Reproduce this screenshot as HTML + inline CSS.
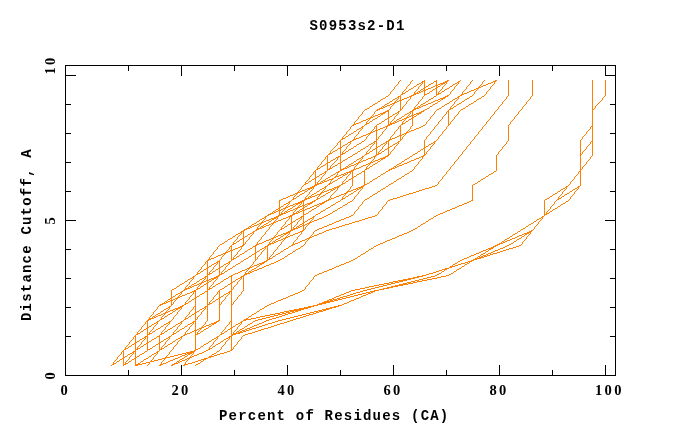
<!DOCTYPE html>
<html><head><meta charset="utf-8"><title>S0953s2-D1</title>
<style>
html,body{margin:0;padding:0;background:#fff;}
body{width:680px;height:440px;overflow:hidden;}
svg{display:block;}
.t{font-family:"Liberation Mono",monospace;font-weight:bold;font-size:14px;letter-spacing:1.2px;fill:#000;}
.n{font-family:"Liberation Serif",serif;font-weight:bold;font-size:14.5px;letter-spacing:2.35px;fill:#000;}
</style></head><body>
<svg width="680" height="440" viewBox="0 0 680 440">
<rect x="0" y="0" width="680" height="440" fill="#ffffff"/>

<path d="M113.5 362V365M117.5 357V359M121.5 352V354M123.5 350V366M125.5 347V350M125.5 362V365M129.5 342V344M129.5 357V359M133.5 337V339M133.5 351V354M135.5 335V366M136.5 364V366M137.5 332V335M137.5 347V350M137.5 364V366M138.5 363V365M139.5 363V365M141.5 327V329M141.5 342V344M145.5 322V324M145.5 336V339M147.5 320V351M148.5 319V321M149.5 317V320M149.5 332V335M149.5 362V364M150.5 318V320M151.5 360V362M152.5 317V319M153.5 312V314M153.5 327V329M153.5 357V359M154.5 316V318M157.5 307V309M157.5 321V324M157.5 351V354M159.5 335V351M160.5 304V306M160.5 364V366M161.5 317V320M161.5 332V335M161.5 347V350M161.5 362V365M162.5 303V305M164.5 302V304M164.5 313V315M164.5 358V360M165.5 312V314M165.5 327V329M165.5 342V344M165.5 357V359M166.5 301V303M166.5 311V313M166.5 356V358M169.5 306V309M169.5 321V324M169.5 336V339M169.5 352V354M171.5 290V306M172.5 364V366M173.5 302V304M173.5 317V319M173.5 332V335M173.5 347V349M174.5 363V365M176.5 298V300M176.5 308V310M176.5 362V364M177.5 297V299M177.5 308V310M177.5 312V314M177.5 327V329M177.5 342V344M178.5 296V298M178.5 307V309M178.5 361V363M179.5 307V309M180.5 306V308M181.5 291V294M181.5 306V309M181.5 321V324M181.5 336V339M182.5 305V307M184.5 289V291M184.5 334V336M184.5 364V366M185.5 287V290M185.5 302V305M185.5 317V320M185.5 332V335M185.5 353V355M185.5 362V365M186.5 288V290M187.5 352V354M188.5 287V289M188.5 352V355M188.5 358V360M189.5 282V284M189.5 297V299M189.5 312V314M189.5 327V329M189.5 352V355M189.5 357V359M190.5 286V288M190.5 351V354M190.5 356V358M191.5 351V354M192.5 351V353M193.5 276V279M193.5 291V294M193.5 307V309M193.5 321V324M193.5 351V354M194.5 290V292M194.5 350V352M195.5 290V351M197.5 272V275M197.5 287V290M197.5 317V319M197.5 332V335M200.5 283V285M200.5 328V330M201.5 267V269M201.5 282V284M201.5 312V314M201.5 327V329M202.5 281V283M202.5 326V328M203.5 359V361M204.5 358V360M205.5 262V264M205.5 276V279M205.5 306V309M205.5 322V324M205.5 358V360M207.5 260V321M208.5 259V261M209.5 257V260M209.5 272V275M209.5 287V290M209.5 302V305M209.5 347V350M209.5 356V358M210.5 356V358M211.5 355V357M212.5 278V280M212.5 323V325M213.5 252V254M213.5 267V269M213.5 278V280M213.5 282V284M213.5 297V299M213.5 323V325M213.5 342V344M214.5 277V279M214.5 322V324M215.5 277V279M215.5 322V324M216.5 276V278M216.5 321V323M217.5 247V249M217.5 261V264M217.5 276V279M217.5 292V294M217.5 336V339M218.5 275V277M218.5 320V322M219.5 260V276M219.5 290V321M221.5 257V259M221.5 272V275M221.5 302V304M221.5 332V335M221.5 347V349M224.5 253V255M225.5 252V254M225.5 267V269M225.5 297V299M225.5 327V329M225.5 342V344M226.5 251V253M229.5 247V249M229.5 261V264M229.5 291V294M229.5 322V324M229.5 336V339M231.5 245V261M231.5 275V351M232.5 334V336M233.5 242V245M233.5 257V260M233.5 287V289M233.5 302V304M233.5 332V335M233.5 347V349M234.5 333V335M235.5 333V335M236.5 332V334M237.5 237V239M237.5 252V254M237.5 282V284M237.5 297V299M237.5 327V329M237.5 342V344M238.5 331V334M239.5 332V334M240.5 331V333M241.5 231V234M241.5 246V249M241.5 276V279M241.5 292V294M241.5 321V324M241.5 331V333M241.5 337V339M242.5 245V247M243.5 230V246M243.5 275V291M243.5 330V332M244.5 229V231M244.5 274V276M244.5 319V321M244.5 330V332M245.5 242V244M245.5 272V275M245.5 319V321M246.5 228V230M246.5 273V275M246.5 318V320M246.5 329V331M247.5 318V320M248.5 227V229M248.5 268V270M248.5 272V274M249.5 237V239M249.5 267V269M249.5 328V330M250.5 226V228M250.5 266V268M250.5 271V273M253.5 231V234M253.5 262V264M255.5 245V261M256.5 229V231M256.5 244V246M257.5 227V230M257.5 242V245M257.5 257V259M258.5 228V230M260.5 223V225M260.5 227V229M260.5 263V265M261.5 222V224M261.5 237V239M261.5 252V254M261.5 263V265M262.5 221V223M262.5 226V228M262.5 262V264M263.5 262V264M264.5 261V263M265.5 216V219M265.5 232V234M265.5 246V249M266.5 260V262M267.5 245V261M268.5 214V216M268.5 244V246M269.5 227V229M269.5 242V245M269.5 257V260M270.5 213V215M270.5 243V245M272.5 212V214M272.5 218V220M272.5 223V225M272.5 238V240M272.5 242V244M273.5 218V220M273.5 222V224M273.5 237V239M273.5 252V254M274.5 211V213M274.5 217V219M274.5 221V223M274.5 236V238M274.5 241V243M274.5 314V316M275.5 217V219M276.5 216V218M277.5 216V219M277.5 232V234M277.5 247V249M278.5 215V217M278.5 313V315M279.5 200V216M279.5 313V315M280.5 214V216M281.5 212V215M281.5 227V230M281.5 242V244M282.5 213V215M282.5 312V314M283.5 312V314M284.5 208V210M284.5 212V214M284.5 233V235M284.5 238V240M285.5 207V209M285.5 222V224M285.5 233V235M285.5 237V239M285.5 313V315M286.5 206V208M286.5 211V213M286.5 232V234M286.5 236V238M286.5 311V313M287.5 232V234M287.5 311V313M288.5 231V233M288.5 311V314M289.5 201V204M289.5 216V219M289.5 231V234M289.5 312V314M290.5 215V217M290.5 230V232M290.5 310V312M291.5 215V231M291.5 310V312M292.5 214V216M292.5 229V231M292.5 244V246M292.5 310V313M293.5 197V200M293.5 212V215M293.5 227V230M293.5 242V245M293.5 310V313M294.5 213V215M294.5 228V230M294.5 309V311M295.5 309V312M296.5 193V195M296.5 203V205M296.5 208V210M296.5 212V214M296.5 227V229M296.5 309V312M297.5 192V194M297.5 203V205M297.5 207V209M297.5 222V224M297.5 237V239M297.5 309V312M298.5 191V193M298.5 202V204M298.5 206V208M298.5 211V213M298.5 226V228M298.5 309V311M299.5 202V204M299.5 308V311M300.5 201V203M300.5 308V311M301.5 187V189M301.5 201V204M301.5 216V219M301.5 231V234M301.5 308V310M302.5 200V202M302.5 230V232M302.5 308V310M303.5 200V231M303.5 308V310M304.5 199V201M304.5 307V309M305.5 182V185M305.5 197V200M305.5 227V229M305.5 242V244M305.5 287V289M305.5 307V309M306.5 198V200M306.5 307V309M307.5 307V309M308.5 188V190M308.5 197V199M308.5 203V205M308.5 223V225M308.5 238V240M308.5 306V308M309.5 177V179M309.5 188V190M309.5 192V194M309.5 203V205M309.5 222V224M309.5 237V239M309.5 282V284M309.5 306V308M309.5 313V315M310.5 187V189M310.5 196V198M310.5 202V204M310.5 221V223M310.5 236V238M310.5 306V308M311.5 187V189M311.5 202V204M312.5 186V188M312.5 201V203M313.5 172V174M313.5 186V189M313.5 216V219M313.5 232V234M313.5 277V279M313.5 305V307M313.5 312V314M314.5 185V187M314.5 200V202M315.5 170V186M316.5 184V186M316.5 311V313M317.5 167V170M317.5 182V185M317.5 197V200M317.5 304V306M317.5 311V313M318.5 183V185M319.5 194V196M319.5 303V305M319.5 310V312M320.5 182V184M320.5 193V195M320.5 203V205M320.5 303V305M320.5 310V312M321.5 162V164M321.5 177V179M321.5 192V194M321.5 203V205M321.5 303V305M321.5 310V312M322.5 181V183M322.5 191V193M322.5 202V204M322.5 302V304M323.5 202V204M323.5 302V304M323.5 309V311M324.5 180V182M324.5 201V203M324.5 301V304M324.5 309V311M325.5 157V159M325.5 171V174M325.5 186V189M325.5 301V304M325.5 309V311M326.5 200V202M326.5 301V303M326.5 308V310M327.5 155V171M327.5 300V303M327.5 308V310M328.5 199V201M328.5 300V303M328.5 308V310M329.5 153V155M329.5 168V170M329.5 183V185M329.5 198V200M329.5 301V303M330.5 151V154M330.5 166V169M330.5 181V184M330.5 196V198M330.5 299V302M330.5 307V309M331.5 179V181M331.5 189V191M331.5 299V302M331.5 307V309M332.5 178V180M332.5 300V302M333.5 188V190M333.5 298V300M334.5 299V301M334.5 306V308M335.5 176V178M335.5 187V189M335.5 299V301M335.5 306V308M336.5 175V177M336.5 299V301M337.5 143V145M337.5 157V160M337.5 172V175M337.5 186V190M338.5 156V158M338.5 171V173M338.5 186V188M338.5 298V300M338.5 305V307M339.5 185V187M339.5 298V300M340.5 140V171M341.5 169V171M342.5 137V140M342.5 152V155M342.5 182V185M342.5 197V200M342.5 297V299M343.5 168V170M343.5 174V176M345.5 167V169M345.5 173V175M345.5 193V195M346.5 132V134M346.5 147V149M346.5 177V179M346.5 192V194M346.5 296V298M347.5 166V168M347.5 172V174M347.5 191V193M348.5 190V192M349.5 171V173M350.5 127V129M350.5 141V144M350.5 171V174M350.5 187V189M351.5 170V172M352.5 170V186M353.5 124V126M353.5 139V141M353.5 169V171M354.5 122V125M354.5 137V140M354.5 167V170M354.5 197V199M354.5 212V214M357.5 163V165M357.5 188V190M358.5 117V119M358.5 132V134M358.5 162V164M358.5 192V194M358.5 207V209M359.5 161V163M359.5 187V189M360.5 187V189M361.5 186V188M362.5 112V114M362.5 126V129M362.5 156V159M362.5 186V189M362.5 202V204M363.5 185V187M364.5 170V186M366.5 122V125M366.5 137V139M366.5 152V155M366.5 167V170M368.5 292V294M369.5 118V120M369.5 133V135M369.5 163V165M369.5 292V294M370.5 117V119M370.5 132V134M370.5 147V149M370.5 162V164M371.5 116V118M371.5 131V133M371.5 161V163M371.5 291V293M372.5 291V293M374.5 112V114M374.5 127V129M374.5 141V144M374.5 156V159M374.5 290V292M375.5 155V157M376.5 125V156M377.5 109V111M378.5 137V139M378.5 152V155M378.5 212V214M379.5 108V110M381.5 107V109M381.5 113V115M381.5 158V160M382.5 113V115M382.5 132V134M382.5 147V149M382.5 158V160M382.5 207V209M383.5 106V108M383.5 112V114M383.5 157V159M383.5 284V286M383.5 288V290M384.5 112V114M384.5 157V159M385.5 111V113M385.5 156V158M386.5 126V129M386.5 141V144M386.5 202V204M387.5 110V112M387.5 125V127M387.5 155V157M387.5 283V285M387.5 287V289M388.5 110V126M388.5 140V156M388.5 283V285M388.5 287V289M389.5 124V126M389.5 139V141M389.5 169V171M390.5 92V94M390.5 107V109M390.5 122V125M390.5 137V140M390.5 152V154M391.5 123V125M391.5 168V170M391.5 282V284M391.5 286V288M392.5 282V284M392.5 286V288M393.5 103V105M393.5 122V124M393.5 167V169M394.5 87V89M394.5 102V104M394.5 117V119M394.5 132V134M394.5 147V149M395.5 101V103M395.5 121V123M395.5 166V168M395.5 281V283M395.5 285V287M396.5 281V283M396.5 285V287M397.5 281V283M397.5 285V287M398.5 82V84M398.5 96V99M398.5 111V114M398.5 127V129M398.5 141V144M399.5 280V282M399.5 284V286M400.5 95V111M400.5 125V141M400.5 280V282M400.5 284V286M401.5 280V282M401.5 284V286M402.5 92V95M402.5 107V109M402.5 122V125M402.5 137V139M402.5 280V282M402.5 284V286M403.5 279V281M403.5 283V285M404.5 279V281M404.5 283V285M405.5 118V120M405.5 133V135M405.5 279V281M405.5 283V285M406.5 87V89M406.5 102V104M406.5 117V119M406.5 132V134M406.5 279V281M406.5 283V285M407.5 116V118M407.5 131V133M408.5 278V280M408.5 282V284M409.5 278V280M409.5 282V284M410.5 82V84M410.5 96V99M410.5 111V114M410.5 127V129M410.5 278V280M410.5 282V284M411.5 95V97M412.5 110V126M413.5 94V96M413.5 109V111M413.5 277V279M413.5 281V283M414.5 92V95M414.5 107V110M414.5 167V169M414.5 277V279M414.5 281V283M415.5 93V95M415.5 108V110M417.5 92V94M417.5 107V109M417.5 113V115M417.5 276V278M417.5 280V282M418.5 87V89M418.5 102V104M418.5 113V115M418.5 162V164M418.5 276V278M418.5 280V282M419.5 91V93M419.5 106V108M419.5 112V114M420.5 112V114M421.5 111V113M422.5 81V84M422.5 97V99M422.5 156V159M422.5 275V277M422.5 279V281M423.5 110V112M423.5 155V157M424.5 80V96M424.5 140V156M426.5 122V124M426.5 137V139M426.5 152V154M430.5 117V119M430.5 132V134M430.5 147V149M434.5 112V114M434.5 127V129M434.5 141V144M436.5 80V96M438.5 92V95M438.5 122V124M438.5 137V139M438.5 182V184M441.5 83V85M441.5 98V100M442.5 83V85M442.5 87V89M442.5 98V100M442.5 117V119M442.5 132V134M442.5 177V179M443.5 82V84M443.5 97V99M444.5 82V84M444.5 97V99M444.5 269V271M445.5 81V83M445.5 96V98M445.5 268V270M446.5 81V84M446.5 112V114M446.5 127V129M446.5 172V174M446.5 268V270M447.5 80V82M447.5 95V97M448.5 110V126M450.5 92V94M450.5 107V110M450.5 122V124M450.5 167V169M450.5 266V268M451.5 266V268M452.5 265V267M454.5 87V89M454.5 102V104M454.5 117V119M454.5 162V164M458.5 81V84M458.5 96V99M458.5 112V114M458.5 157V159M461.5 94V96M462.5 92V95M462.5 152V154M466.5 87V89M466.5 147V149M467.5 262V264M469.5 261V263M470.5 82V84M470.5 142V144M471.5 260V262M472.5 185V201M473.5 259V261M474.5 92V94M474.5 137V139M475.5 258V260M476.5 258V260M477.5 88V90M477.5 257V259M478.5 87V89M478.5 132V134M479.5 86V88M479.5 256V259M480.5 257V259M481.5 256V258M482.5 82V84M482.5 127V129M482.5 256V258M484.5 255V257M485.5 255V257M486.5 92V94M486.5 122V124M487.5 254V256M489.5 248V250M490.5 87V89M490.5 117V119M490.5 248V250M490.5 253V255M491.5 247V249M492.5 247V249M493.5 246V248M494.5 81V84M494.5 112V114M495.5 80V82M495.5 245V247M496.5 155V171M497.5 244V246M498.5 107V109M498.5 152V154M499.5 243V245M501.5 242V244M502.5 102V104M502.5 147V149M503.5 241V243M506.5 97V99M506.5 142V144M508.5 80V96M508.5 125V141M510.5 122V124M514.5 117V119M518.5 112V114M522.5 107V109M522.5 242V244M525.5 233V235M526.5 102V104M526.5 233V235M526.5 237V239M527.5 232V234M528.5 232V234M529.5 231V233M530.5 97V99M530.5 231V234M531.5 230V232M532.5 80V96M534.5 227V229M538.5 222V224M542.5 216V219M544.5 200V216M546.5 212V215M550.5 207V209M554.5 202V204M558.5 197V200M562.5 192V194M566.5 186V189M570.5 182V184M570.5 197V199M574.5 177V179M574.5 192V194M578.5 172V174M578.5 186V189M580.5 140V186M582.5 137V139M582.5 152V154M582.5 167V169M586.5 132V134M586.5 147V149M586.5 162V164M590.5 127V129M590.5 142V144M590.5 157V159M592.5 80V156M595.5 106V108M602.5 98V100M605.5 80V96M400 80.5H401M412 80.5H413M448 80.5H449M460 80.5H461M472 80.5H473M484 80.5H485M496 80.5H497M399 81.5H400M411 81.5H412M423 81.5H424M434 81.5H436M459 81.5H460M471 81.5H472M483 81.5H484M493 81.5H494M421 82.5H422M433 82.5H434M457 82.5H458M491 82.5H493M419 83.5H421M431 83.5H433M440 83.5H441M455 83.5H457M488 83.5H491M397 84.5H398M409 84.5H410M417 84.5H419M421 84.5H422M429 84.5H431M438 84.5H440M445 84.5H446M453 84.5H455M457 84.5H458M469 84.5H470M481 84.5H482M486 84.5H488M493 84.5H494M396 85.5H397M408 85.5H409M416 85.5H417M420 85.5H421M428 85.5H429M435 85.5H436M437 85.5H438M440 85.5H441M444 85.5H445M452 85.5H453M456 85.5H457M468 85.5H469M480 85.5H481M483 85.5H486M492 85.5H493M395 86.5H396M407 86.5H408M414 86.5H416M419 86.5H420M426 86.5H428M433 86.5H435M438 86.5H440M443 86.5H444M450 86.5H452M455 86.5H456M467 86.5H468M481 86.5H483M491 86.5H492M413 87.5H414M425 87.5H426M431 87.5H433M437 87.5H438M449 87.5H450M480 87.5H481M411 88.5H413M423 88.5H424M428 88.5H431M435 88.5H436M447 88.5H449M476 88.5H477M393 89.5H394M405 89.5H406M409 89.5H411M417 89.5H418M421 89.5H423M426 89.5H428M433 89.5H435M441 89.5H442M445 89.5H447M453 89.5H454M465 89.5H466M474 89.5H476M489 89.5H490M392 90.5H393M404 90.5H405M408 90.5H409M416 90.5H417M420 90.5H421M423 90.5H424M425 90.5H426M432 90.5H433M440 90.5H441M444 90.5H445M452 90.5H453M464 90.5H465M471 90.5H474M476 90.5H477M488 90.5H489M391 91.5H392M403 91.5H404M406 91.5H408M415 91.5H416M418 91.5H419M421 91.5H423M430 91.5H432M439 91.5H440M442 91.5H444M451 91.5H452M463 91.5H464M469 91.5H471M475 91.5H476M487 91.5H488M405 92.5H406M420 92.5H421M429 92.5H430M441 92.5H442M467 92.5H469M403 93.5H405M416 93.5H417M418 93.5H419M427 93.5H429M439 93.5H441M464 93.5H467M389 94.5H390M401 94.5H402M425 94.5H427M437 94.5H438M449 94.5H450M463 94.5H464M473 94.5H474M485 94.5H486M388 95.5H389M412 95.5H413M448 95.5H449M460 95.5H461M472 95.5H473M484 95.5H485M386 96.5H388M399 96.5H400M409 96.5H410M423 96.5H424M434 96.5H436M446 96.5H447M459 96.5H460M470 96.5H472M482 96.5H484M507 96.5H508M531 96.5H532M604 96.5H605M385 97.5H386M397 97.5H398M407 97.5H409M433 97.5H434M457 97.5H458M469 97.5H470M481 97.5H482M603 97.5H604M383 98.5H385M395 98.5H397M404 98.5H407M431 98.5H433M440 98.5H441M455 98.5H457M467 98.5H469M479 98.5H481M381 99.5H383M393 99.5H395M397 99.5H398M402 99.5H404M409 99.5H410M421 99.5H422M429 99.5H431M438 99.5H440M453 99.5H455M457 99.5H458M465 99.5H467M477 99.5H479M505 99.5H506M529 99.5H530M380 100.5H381M392 100.5H393M396 100.5H397M399 100.5H400M401 100.5H402M408 100.5H409M420 100.5H421M428 100.5H429M435 100.5H438M440 100.5H441M452 100.5H453M456 100.5H457M464 100.5H465M476 100.5H477M504 100.5H505M528 100.5H529M601 100.5H602M378 101.5H380M390 101.5H392M397 101.5H399M407 101.5H408M419 101.5H420M426 101.5H428M433 101.5H435M438 101.5H440M450 101.5H452M455 101.5H456M462 101.5H464M474 101.5H476M503 101.5H504M527 101.5H528M600 101.5H601M377 102.5H378M389 102.5H390M396 102.5H397M425 102.5H426M431 102.5H433M437 102.5H438M449 102.5H450M461 102.5H462M473 102.5H474M599 102.5H600M375 103.5H377M387 103.5H389M392 103.5H393M423 103.5H425M428 103.5H431M435 103.5H437M447 103.5H449M459 103.5H461M471 103.5H473M598 103.5H599M373 104.5H375M385 104.5H387M390 104.5H392M405 104.5H406M417 104.5H418M421 104.5H423M426 104.5H428M433 104.5H435M445 104.5H447M453 104.5H454M457 104.5H459M469 104.5H471M501 104.5H502M525 104.5H526M597 104.5H598M372 105.5H373M384 105.5H385M387 105.5H390M392 105.5H393M404 105.5H405M416 105.5H417M420 105.5H421M423 105.5H426M432 105.5H433M444 105.5H445M452 105.5H453M456 105.5H457M468 105.5H469M500 105.5H501M524 105.5H525M596 105.5H597M370 106.5H372M382 106.5H383M385 106.5H387M391 106.5H392M403 106.5H404M415 106.5H416M418 106.5H419M421 106.5H423M430 106.5H432M442 106.5H444M451 106.5H452M454 106.5H456M466 106.5H468M499 106.5H500M523 106.5H524M369 107.5H370M384 107.5H385M420 107.5H421M429 107.5H430M441 107.5H442M453 107.5H454M465 107.5H466M367 108.5H369M380 108.5H381M382 108.5H383M416 108.5H417M418 108.5H419M427 108.5H429M439 108.5H441M451 108.5H453M463 108.5H465M594 108.5H595M365 109.5H367M378 109.5H379M389 109.5H390M401 109.5H402M425 109.5H427M437 109.5H439M449 109.5H450M461 109.5H463M497 109.5H498M521 109.5H522M593 109.5H594M364 110.5H365M376 110.5H377M424 110.5H425M436 110.5H437M460 110.5H461M496 110.5H497M520 110.5H521M363 111.5H364M375 111.5H376M386 111.5H387M399 111.5H400M411 111.5H412M422 111.5H423M435 111.5H436M447 111.5H448M459 111.5H460M495 111.5H496M519 111.5H520M397 112.5H398M409 112.5H410M380 113.5H381M395 113.5H397M407 113.5H409M416 113.5H417M361 114.5H362M373 114.5H374M378 114.5H380M393 114.5H395M397 114.5H398M405 114.5H407M409 114.5H410M414 114.5H416M433 114.5H434M445 114.5H446M457 114.5H458M493 114.5H494M517 114.5H518M360 115.5H361M372 115.5H373M375 115.5H378M380 115.5H381M392 115.5H393M396 115.5H397M404 115.5H405M408 115.5H409M411 115.5H412M413 115.5H414M416 115.5H417M432 115.5H433M444 115.5H445M456 115.5H457M492 115.5H493M516 115.5H517M359 116.5H360M373 116.5H375M378 116.5H380M390 116.5H392M395 116.5H396M402 116.5H404M409 116.5H411M414 116.5H416M431 116.5H432M443 116.5H444M455 116.5H456M491 116.5H492M515 116.5H516M372 117.5H373M377 117.5H378M389 117.5H390M401 117.5H402M408 117.5H409M413 117.5H414M368 118.5H369M375 118.5H377M387 118.5H388M399 118.5H401M404 118.5H405M411 118.5H412M357 119.5H358M366 119.5H368M373 119.5H375M385 119.5H387M393 119.5H394M397 119.5H399M402 119.5H404M409 119.5H411M429 119.5H430M441 119.5H442M453 119.5H454M489 119.5H490M513 119.5H514M356 120.5H357M363 120.5H366M368 120.5H369M372 120.5H373M384 120.5H385M392 120.5H393M396 120.5H397M399 120.5H402M404 120.5H405M408 120.5H409M428 120.5H429M440 120.5H441M452 120.5H453M488 120.5H489M512 120.5H513M355 121.5H356M361 121.5H363M367 121.5H368M370 121.5H372M382 121.5H384M391 121.5H392M394 121.5H395M397 121.5H399M403 121.5H404M406 121.5H408M427 121.5H428M439 121.5H440M451 121.5H452M487 121.5H488M511 121.5H512M359 122.5H361M369 122.5H370M381 122.5H382M396 122.5H397M405 122.5H406M356 123.5H359M367 123.5H369M379 123.5H381M392 123.5H393M394 123.5H395M403 123.5H405M355 124.5H356M365 124.5H366M377 124.5H379M401 124.5H402M425 124.5H426M437 124.5H438M449 124.5H450M485 124.5H486M509 124.5H510M352 125.5H353M364 125.5H365M423 125.5H425M436 125.5H437M484 125.5H485M351 126.5H352M363 126.5H364M375 126.5H376M385 126.5H386M399 126.5H400M411 126.5H412M421 126.5H423M435 126.5H436M447 126.5H448M483 126.5H484M591 126.5H592M361 127.5H362M383 127.5H385M419 127.5H421M359 128.5H361M380 128.5H383M416 128.5H419M349 129.5H350M357 129.5H359M361 129.5H362M373 129.5H374M378 129.5H380M385 129.5H386M397 129.5H398M409 129.5H410M414 129.5H416M433 129.5H434M445 129.5H446M481 129.5H482M589 129.5H590M348 130.5H349M356 130.5H357M360 130.5H361M372 130.5H373M375 130.5H376M377 130.5H378M384 130.5H385M396 130.5H397M408 130.5H409M411 130.5H414M432 130.5H433M444 130.5H445M480 130.5H481M588 130.5H589M347 131.5H348M354 131.5H356M359 131.5H360M373 131.5H375M383 131.5H384M395 131.5H396M409 131.5H411M431 131.5H432M443 131.5H444M479 131.5H480M587 131.5H588M353 132.5H354M372 132.5H373M408 132.5H409M351 133.5H353M368 133.5H369M404 133.5H405M345 134.5H346M349 134.5H351M357 134.5H358M366 134.5H368M381 134.5H382M393 134.5H394M402 134.5H404M429 134.5H430M441 134.5H442M477 134.5H478M585 134.5H586M344 135.5H345M348 135.5H349M356 135.5H357M363 135.5H366M368 135.5H369M380 135.5H381M392 135.5H393M399 135.5H400M401 135.5H402M404 135.5H405M428 135.5H429M440 135.5H441M476 135.5H477M584 135.5H585M343 136.5H344M346 136.5H348M355 136.5H356M361 136.5H363M367 136.5H368M379 136.5H380M391 136.5H392M397 136.5H399M403 136.5H404M427 136.5H428M439 136.5H440M475 136.5H476M583 136.5H584M345 137.5H346M359 137.5H361M395 137.5H397M343 138.5H345M356 138.5H359M392 138.5H395M341 139.5H342M355 139.5H356M365 139.5H366M377 139.5H378M391 139.5H392M401 139.5H402M425 139.5H426M437 139.5H438M473 139.5H474M581 139.5H582M352 140.5H353M364 140.5H365M436 140.5H437M472 140.5H473M339 141.5H340M351 141.5H352M362 141.5H364M375 141.5H376M387 141.5H388M399 141.5H400M435 141.5H436M471 141.5H472M507 141.5H508M591 141.5H592M338 142.5H339M348 142.5H350M361 142.5H362M373 142.5H374M385 142.5H386M397 142.5H398M433 142.5H434M347 143.5H348M359 143.5H361M371 143.5H373M383 143.5H385M395 143.5H397M431 143.5H433M345 144.5H347M349 144.5H350M357 144.5H359M369 144.5H371M373 144.5H374M381 144.5H383M385 144.5H386M393 144.5H395M397 144.5H398M429 144.5H431M433 144.5H434M469 144.5H470M505 144.5H506M589 144.5H590M336 145.5H337M343 145.5H345M348 145.5H349M356 145.5H357M368 145.5H369M372 145.5H373M380 145.5H381M384 145.5H385M392 145.5H393M396 145.5H397M428 145.5H429M432 145.5H433M468 145.5H469M504 145.5H505M588 145.5H589M335 146.5H336M342 146.5H343M347 146.5H348M354 146.5H356M366 146.5H368M371 146.5H372M378 146.5H380M383 146.5H384M390 146.5H392M395 146.5H396M426 146.5H428M431 146.5H432M467 146.5H468M503 146.5H504M587 146.5H588M334 147.5H335M341 147.5H342M353 147.5H354M365 147.5H366M377 147.5H378M389 147.5H390M425 147.5H426M333 148.5H334M338 148.5H340M351 148.5H353M363 148.5H365M375 148.5H376M387 148.5H388M423 148.5H424M332 149.5H333M337 149.5H338M345 149.5H346M349 149.5H351M361 149.5H363M369 149.5H370M373 149.5H375M381 149.5H382M385 149.5H387M393 149.5H394M421 149.5H423M429 149.5H430M465 149.5H466M501 149.5H502M585 149.5H586M331 150.5H332M335 150.5H337M344 150.5H345M348 150.5H349M360 150.5H361M368 150.5H369M372 150.5H373M380 150.5H381M384 150.5H385M392 150.5H393M420 150.5H421M428 150.5H429M464 150.5H465M500 150.5H501M584 150.5H585M333 151.5H335M343 151.5H344M346 151.5H348M358 151.5H360M367 151.5H368M370 151.5H372M379 151.5H380M382 151.5H384M391 151.5H392M418 151.5H420M427 151.5H428M463 151.5H464M499 151.5H500M583 151.5H584M332 152.5H333M345 152.5H346M357 152.5H358M369 152.5H370M381 152.5H382M417 152.5H418M331 153.5H332M343 153.5H345M355 153.5H357M367 153.5H369M379 153.5H381M415 153.5H417M328 154.5H329M341 154.5H342M353 154.5H355M365 154.5H366M377 154.5H378M389 154.5H390M413 154.5H415M425 154.5H426M461 154.5H462M497 154.5H498M581 154.5H582M352 155.5H353M364 155.5H365M412 155.5H413M460 155.5H461M326 156.5H327M339 156.5H340M350 156.5H352M363 156.5H364M373 156.5H374M386 156.5H387M410 156.5H412M421 156.5H422M459 156.5H460M591 156.5H592M336 157.5H337M348 157.5H350M361 157.5H362M371 157.5H373M409 157.5H410M419 157.5H421M335 158.5H336M347 158.5H348M359 158.5H361M368 158.5H371M380 158.5H381M407 158.5H409M416 158.5H419M324 159.5H325M333 159.5H335M345 159.5H347M357 159.5H359M361 159.5H362M366 159.5H368M373 159.5H374M378 159.5H380M405 159.5H407M414 159.5H416M421 159.5H422M457 159.5H458M589 159.5H590M323 160.5H324M331 160.5H333M336 160.5H337M343 160.5H345M356 160.5H357M360 160.5H361M363 160.5H366M372 160.5H373M375 160.5H378M380 160.5H381M404 160.5H405M411 160.5H414M420 160.5H421M456 160.5H457M588 160.5H589M322 161.5H323M330 161.5H331M335 161.5H336M342 161.5H343M354 161.5H356M361 161.5H363M373 161.5H375M378 161.5H380M402 161.5H404M409 161.5H411M419 161.5H420M455 161.5H456M587 161.5H588M328 162.5H330M334 162.5H335M341 162.5H342M353 162.5H354M360 162.5H361M372 162.5H373M377 162.5H378M401 162.5H402M407 162.5H409M326 163.5H327M333 163.5H334M338 163.5H340M351 163.5H353M356 163.5H357M368 163.5H369M375 163.5H377M399 163.5H401M404 163.5H407M320 164.5H321M325 164.5H326M332 164.5H333M337 164.5H338M349 164.5H351M354 164.5H356M366 164.5H368M373 164.5H375M397 164.5H399M402 164.5H404M417 164.5H418M453 164.5H454M585 164.5H586M319 165.5H320M323 165.5H325M331 165.5H332M335 165.5H337M348 165.5H349M351 165.5H354M356 165.5H357M363 165.5H366M368 165.5H369M372 165.5H373M396 165.5H397M399 165.5H402M416 165.5H417M452 165.5H453M584 165.5H585M318 166.5H319M321 166.5H323M333 166.5H335M346 166.5H347M349 166.5H351M355 166.5H356M361 166.5H363M367 166.5H368M370 166.5H372M394 166.5H395M397 166.5H399M415 166.5H416M451 166.5H452M583 166.5H584M320 167.5H321M332 167.5H333M348 167.5H349M359 167.5H361M369 167.5H370M396 167.5H397M318 168.5H320M331 168.5H332M344 168.5H345M346 168.5H347M356 168.5H359M367 168.5H369M392 168.5H393M394 168.5H395M316 169.5H317M328 169.5H329M342 169.5H343M355 169.5H356M365 169.5H366M390 169.5H391M413 169.5H414M449 169.5H450M581 169.5H582M388 170.5H389M412 170.5H413M448 170.5H449M314 171.5H315M326 171.5H327M339 171.5H340M362 171.5H364M386 171.5H388M410 171.5H412M447 171.5H448M494 171.5H496M579 171.5H580M324 172.5H325M336 172.5H337M346 172.5H347M348 172.5H349M361 172.5H362M385 172.5H386M409 172.5H410M493 172.5H494M322 173.5H324M335 173.5H336M344 173.5H345M359 173.5H361M383 173.5H385M407 173.5H409M491 173.5H493M312 174.5H313M320 174.5H322M324 174.5H325M333 174.5H335M341 174.5H343M346 174.5H347M349 174.5H350M357 174.5H359M381 174.5H383M405 174.5H407M445 174.5H446M489 174.5H491M577 174.5H578M311 175.5H312M319 175.5H320M323 175.5H324M331 175.5H333M339 175.5H341M344 175.5H345M348 175.5H349M356 175.5H357M380 175.5H381M404 175.5H405M444 175.5H445M488 175.5H489M576 175.5H577M310 176.5H311M317 176.5H319M322 176.5H323M330 176.5H331M337 176.5H339M342 176.5H343M347 176.5H348M354 176.5H356M378 176.5H380M402 176.5H404M443 176.5H444M486 176.5H488M575 176.5H576M316 177.5H317M328 177.5H330M334 177.5H335M340 177.5H342M353 177.5H354M377 177.5H378M401 177.5H402M485 177.5H486M314 178.5H315M326 178.5H328M333 178.5H334M338 178.5H340M351 178.5H352M375 178.5H377M399 178.5H401M483 178.5H485M308 179.5H309M312 179.5H314M320 179.5H321M325 179.5H326M329 179.5H331M337 179.5H338M345 179.5H346M349 179.5H351M373 179.5H375M397 179.5H399M441 179.5H442M481 179.5H483M573 179.5H574M307 180.5H308M311 180.5H312M319 180.5H320M323 180.5H324M327 180.5H329M335 180.5H337M344 180.5H345M348 180.5H349M372 180.5H373M396 180.5H397M440 180.5H441M480 180.5H481M572 180.5H573M306 181.5H307M309 181.5H311M318 181.5H319M321 181.5H322M325 181.5H327M333 181.5H335M343 181.5H344M346 181.5H348M370 181.5H372M394 181.5H396M439 181.5H440M478 181.5H480M571 181.5H572M308 182.5H309M323 182.5H324M332 182.5H333M345 182.5H346M369 182.5H370M393 182.5H394M477 182.5H478M306 183.5H308M319 183.5H320M321 183.5H322M331 183.5H332M343 183.5H345M367 183.5H369M391 183.5H393M475 183.5H477M304 184.5H305M328 184.5H329M341 184.5H342M365 184.5H367M389 184.5H391M437 184.5H438M473 184.5H475M569 184.5H570M303 185.5H304M327 185.5H328M340 185.5H341M388 185.5H389M435 185.5H437M568 185.5H569M302 186.5H303M326 186.5H327M351 186.5H352M386 186.5H388M432 186.5H435M567 186.5H568M579 186.5H580M324 187.5H325M334 187.5H335M336 187.5H337M358 187.5H359M385 187.5H386M429 187.5H432M565 187.5H566M577 187.5H578M307 188.5H308M322 188.5H324M332 188.5H333M356 188.5H357M383 188.5H385M425 188.5H429M563 188.5H565M575 188.5H577M300 189.5H301M305 189.5H307M312 189.5H313M320 189.5H322M324 189.5H325M329 189.5H331M334 189.5H335M349 189.5H350M353 189.5H356M358 189.5H359M361 189.5H362M381 189.5H383M422 189.5H425M561 189.5H563M565 189.5H566M573 189.5H575M577 189.5H578M299 190.5H300M302 190.5H305M307 190.5H308M311 190.5H312M319 190.5H320M323 190.5H324M327 190.5H329M332 190.5H333M336 190.5H337M351 190.5H353M356 190.5H357M360 190.5H361M380 190.5H381M419 190.5H422M560 190.5H561M564 190.5H565M572 190.5H573M576 190.5H577M300 191.5H302M305 191.5H307M310 191.5H311M317 191.5H319M324 191.5H327M330 191.5H331M335 191.5H336M349 191.5H351M354 191.5H356M359 191.5H360M378 191.5H380M416 191.5H419M558 191.5H560M563 191.5H564M570 191.5H572M575 191.5H576M299 192.5H300M304 192.5H305M316 192.5H317M323 192.5H324M328 192.5H330M334 192.5H335M353 192.5H354M377 192.5H378M413 192.5H416M557 192.5H558M569 192.5H570M295 193.5H296M302 193.5H304M314 193.5H316M326 193.5H328M333 193.5H334M344 193.5H345M351 193.5H353M375 193.5H377M409 193.5H413M555 193.5H557M567 193.5H569M293 194.5H295M300 194.5H302M308 194.5H309M312 194.5H314M317 194.5H319M325 194.5H326M332 194.5H333M341 194.5H344M349 194.5H351M357 194.5H358M373 194.5H375M406 194.5H409M553 194.5H555M561 194.5H562M565 194.5H567M573 194.5H574M290 195.5H293M295 195.5H296M299 195.5H300M307 195.5H308M311 195.5H312M315 195.5H317M323 195.5H325M331 195.5H332M339 195.5H341M344 195.5H345M348 195.5H349M356 195.5H357M372 195.5H373M403 195.5H406M552 195.5H553M560 195.5H561M564 195.5H565M572 195.5H573M288 196.5H290M294 196.5H295M297 196.5H299M306 196.5H307M309 196.5H310M312 196.5H315M318 196.5H319M321 196.5H323M336 196.5H339M343 196.5H344M346 196.5H348M355 196.5H356M370 196.5H372M400 196.5H403M550 196.5H552M559 196.5H560M562 196.5H564M571 196.5H572M286 197.5H288M296 197.5H297M311 197.5H312M320 197.5H321M334 197.5H336M345 197.5H346M369 197.5H370M397 197.5H400M549 197.5H550M561 197.5H562M283 198.5H286M294 198.5H296M307 198.5H308M309 198.5H310M318 198.5H320M331 198.5H334M343 198.5H345M367 198.5H369M393 198.5H397M547 198.5H549M559 198.5H561M281 199.5H283M292 199.5H293M316 199.5H317M330 199.5H331M341 199.5H342M353 199.5H354M365 199.5H367M390 199.5H393M545 199.5H547M557 199.5H558M569 199.5H570M280 200.5H281M291 200.5H292M315 200.5H316M327 200.5H328M340 200.5H341M352 200.5H353M364 200.5H365M388 200.5H390M471 200.5H472M556 200.5H557M568 200.5H569M290 201.5H291M313 201.5H314M325 201.5H326M338 201.5H340M350 201.5H352M363 201.5H364M387 201.5H388M469 201.5H471M555 201.5H556M566 201.5H568M288 202.5H289M336 202.5H338M348 202.5H350M467 202.5H469M565 202.5H566M286 203.5H288M295 203.5H296M307 203.5H308M319 203.5H320M335 203.5H336M347 203.5H348M464 203.5H467M563 203.5H565M284 204.5H286M288 204.5H289M293 204.5H295M300 204.5H301M305 204.5H307M317 204.5H319M333 204.5H335M345 204.5H347M361 204.5H362M385 204.5H386M462 204.5H464M553 204.5H554M561 204.5H563M283 205.5H284M287 205.5H288M290 205.5H293M295 205.5H296M299 205.5H300M302 205.5H303M304 205.5H305M307 205.5H308M314 205.5H317M319 205.5H320M331 205.5H333M343 205.5H345M360 205.5H361M384 205.5H385M459 205.5H462M552 205.5H553M560 205.5H561M281 206.5H283M288 206.5H290M293 206.5H295M300 206.5H302M305 206.5H307M312 206.5H314M317 206.5H319M330 206.5H331M342 206.5H343M359 206.5H360M383 206.5H384M457 206.5H459M551 206.5H552M558 206.5H560M280 207.5H281M287 207.5H288M292 207.5H293M299 207.5H300M304 207.5H305M310 207.5H312M316 207.5H317M328 207.5H330M340 207.5H342M455 207.5H457M557 207.5H558M278 208.5H279M283 208.5H284M290 208.5H292M295 208.5H296M302 208.5H303M307 208.5H310M314 208.5H316M326 208.5H328M338 208.5H340M452 208.5H455M555 208.5H557M276 209.5H278M281 209.5H283M288 209.5H290M293 209.5H295M300 209.5H302M305 209.5H307M312 209.5H314M325 209.5H326M337 209.5H338M357 209.5H358M381 209.5H382M450 209.5H452M549 209.5H550M553 209.5H555M275 210.5H276M278 210.5H279M280 210.5H281M283 210.5H284M287 210.5H288M290 210.5H293M295 210.5H296M299 210.5H300M302 210.5H303M304 210.5H305M311 210.5H312M323 210.5H325M335 210.5H337M356 210.5H357M380 210.5H381M447 210.5H450M548 210.5H549M552 210.5H553M273 211.5H274M276 211.5H278M282 211.5H283M285 211.5H286M288 211.5H290M294 211.5H295M297 211.5H298M300 211.5H302M309 211.5H311M321 211.5H323M333 211.5H335M355 211.5H356M379 211.5H380M445 211.5H447M547 211.5H548M550 211.5H552M275 212.5H276M287 212.5H288M299 212.5H300M308 212.5H309M320 212.5H321M332 212.5H333M443 212.5H445M549 212.5H550M271 213.5H272M273 213.5H274M283 213.5H284M285 213.5H286M295 213.5H296M297 213.5H298M306 213.5H308M318 213.5H320M330 213.5H332M440 213.5H443M547 213.5H549M269 214.5H270M304 214.5H306M316 214.5H318M328 214.5H330M353 214.5H354M377 214.5H378M438 214.5H440M545 214.5H546M267 215.5H268M315 215.5H316M326 215.5H328M351 215.5H353M375 215.5H377M436 215.5H438M266 216.5H267M288 216.5H289M302 216.5H303M314 216.5H315M324 216.5H326M349 216.5H351M372 216.5H375M434 216.5H436M543 216.5H544M264 217.5H265M286 217.5H288M300 217.5H301M312 217.5H313M322 217.5H324M346 217.5H349M368 217.5H372M433 217.5H434M541 217.5H542M262 218.5H264M271 218.5H272M283 218.5H286M298 218.5H300M310 218.5H312M319 218.5H322M344 218.5H346M365 218.5H368M431 218.5H433M539 218.5H541M260 219.5H262M264 219.5H265M269 219.5H271M276 219.5H277M281 219.5H283M288 219.5H289M296 219.5H298M300 219.5H301M308 219.5H310M312 219.5H313M317 219.5H319M341 219.5H344M362 219.5H365M429 219.5H431M537 219.5H539M541 219.5H542M259 220.5H260M263 220.5H264M266 220.5H269M271 220.5H272M275 220.5H276M278 220.5H281M287 220.5H288M295 220.5H296M299 220.5H300M307 220.5H308M311 220.5H312M314 220.5H317M339 220.5H341M359 220.5H362M428 220.5H429M536 220.5H537M540 220.5H541M257 221.5H259M264 221.5H266M269 221.5H271M276 221.5H278M286 221.5H287M293 221.5H295M298 221.5H299M305 221.5H307M312 221.5H314M336 221.5H339M355 221.5H359M426 221.5H428M534 221.5H536M539 221.5H540M256 222.5H257M263 222.5H264M268 222.5H269M275 222.5H276M292 222.5H293M304 222.5H305M311 222.5H312M334 222.5H336M352 222.5H355M425 222.5H426M533 222.5H534M254 223.5H256M259 223.5H260M266 223.5H268M271 223.5H272M290 223.5H291M302 223.5H303M307 223.5H308M332 223.5H334M349 223.5H352M423 223.5H425M531 223.5H533M252 224.5H254M257 224.5H259M264 224.5H266M269 224.5H271M284 224.5H285M288 224.5H290M296 224.5H297M300 224.5H302M305 224.5H307M329 224.5H332M345 224.5H349M421 224.5H423M529 224.5H531M537 224.5H538M251 225.5H252M254 225.5H257M259 225.5H260M263 225.5H264M266 225.5H269M271 225.5H272M283 225.5H284M287 225.5H288M295 225.5H296M299 225.5H300M302 225.5H303M304 225.5H305M307 225.5H308M327 225.5H329M342 225.5H345M420 225.5H421M528 225.5H529M536 225.5H537M249 226.5H250M252 226.5H254M258 226.5H259M261 226.5H262M264 226.5H266M270 226.5H271M282 226.5H283M285 226.5H287M294 226.5H295M297 226.5H298M300 226.5H302M306 226.5H307M324 226.5H327M339 226.5H342M418 226.5H420M526 226.5H528M535 226.5H536M251 227.5H252M263 227.5H264M284 227.5H285M299 227.5H300M322 227.5H324M336 227.5H339M417 227.5H418M525 227.5H526M247 228.5H248M249 228.5H250M259 228.5H260M261 228.5H262M282 228.5H284M295 228.5H296M297 228.5H298M319 228.5H322M332 228.5H336M415 228.5H417M523 228.5H525M245 229.5H246M268 229.5H269M280 229.5H281M304 229.5H305M317 229.5H319M329 229.5H332M413 229.5H415M521 229.5H523M533 229.5H534M255 230.5H256M267 230.5H268M279 230.5H280M315 230.5H317M326 230.5H329M411 230.5H413M520 230.5H521M532 230.5H533M242 231.5H243M254 231.5H255M266 231.5H267M278 231.5H279M300 231.5H301M314 231.5H315M324 231.5H326M409 231.5H411M518 231.5H520M240 232.5H241M252 232.5H253M298 232.5H300M322 232.5H324M407 232.5H409M517 232.5H518M238 233.5H240M250 233.5H252M283 233.5H284M295 233.5H298M319 233.5H322M404 233.5H407M515 233.5H517M524 233.5H525M236 234.5H238M240 234.5H241M248 234.5H250M252 234.5H253M264 234.5H265M276 234.5H277M281 234.5H283M288 234.5H289M293 234.5H295M300 234.5H301M312 234.5H313M317 234.5H319M402 234.5H404M513 234.5H515M522 234.5H524M529 234.5H530M235 235.5H236M239 235.5H240M247 235.5H248M251 235.5H252M263 235.5H264M275 235.5H276M278 235.5H281M283 235.5H284M287 235.5H288M290 235.5H293M299 235.5H300M311 235.5H312M314 235.5H317M399 235.5H402M512 235.5H513M519 235.5H522M524 235.5H525M528 235.5H529M233 236.5H235M238 236.5H239M245 236.5H247M250 236.5H251M262 236.5H263M276 236.5H278M281 236.5H283M288 236.5H290M298 236.5H299M312 236.5H314M397 236.5H399M510 236.5H512M517 236.5H519M522 236.5H524M527 236.5H528M232 237.5H233M244 237.5H245M275 237.5H276M280 237.5H281M287 237.5H288M311 237.5H312M395 237.5H397M509 237.5H510M515 237.5H517M521 237.5H522M230 238.5H232M242 238.5H243M271 238.5H272M278 238.5H280M283 238.5H284M307 238.5H308M392 238.5H395M507 238.5H509M512 238.5H515M519 238.5H521M228 239.5H230M236 239.5H237M240 239.5H242M248 239.5H249M260 239.5H261M269 239.5H271M276 239.5H278M281 239.5H283M296 239.5H297M305 239.5H307M390 239.5H392M505 239.5H507M510 239.5H512M517 239.5H519M525 239.5H526M227 240.5H228M235 240.5H236M239 240.5H240M247 240.5H248M259 240.5H260M266 240.5H269M271 240.5H272M275 240.5H276M278 240.5H281M283 240.5H284M295 240.5H296M302 240.5H305M307 240.5H308M387 240.5H390M504 240.5H505M507 240.5H510M516 240.5H517M524 240.5H525M225 241.5H227M234 241.5H235M237 241.5H239M246 241.5H247M258 241.5H259M264 241.5H266M270 241.5H271M273 241.5H274M276 241.5H278M282 241.5H283M294 241.5H295M300 241.5H302M306 241.5H307M385 241.5H387M502 241.5H503M505 241.5H507M514 241.5H516M523 241.5H524M224 242.5H225M236 242.5H237M262 242.5H264M275 242.5H276M298 242.5H300M383 242.5H385M504 242.5H505M513 242.5H514M222 243.5H224M234 243.5H236M259 243.5H262M271 243.5H272M273 243.5H274M295 243.5H298M380 243.5H383M500 243.5H501M502 243.5H503M511 243.5H513M220 244.5H222M232 244.5H233M244 244.5H245M258 244.5H259M280 244.5H281M294 244.5H295M304 244.5H305M378 244.5H380M498 244.5H499M509 244.5H511M521 244.5H522M219 245.5H220M279 245.5H280M291 245.5H292M303 245.5H304M376 245.5H378M496 245.5H497M507 245.5H509M519 245.5H521M218 246.5H219M230 246.5H231M240 246.5H241M253 246.5H255M266 246.5H267M278 246.5H279M289 246.5H291M301 246.5H303M374 246.5H376M494 246.5H495M505 246.5H507M516 246.5H519M238 247.5H240M252 247.5H253M264 247.5H265M288 247.5H289M300 247.5H301M373 247.5H374M503 247.5H505M513 247.5H516M235 248.5H238M250 248.5H252M262 248.5H264M286 248.5H288M298 248.5H300M371 248.5H373M488 248.5H489M500 248.5H503M509 248.5H513M216 249.5H217M228 249.5H229M233 249.5H235M240 249.5H241M248 249.5H250M260 249.5H262M264 249.5H265M276 249.5H277M284 249.5H286M296 249.5H298M369 249.5H371M486 249.5H488M498 249.5H500M506 249.5H509M215 250.5H216M227 250.5H228M230 250.5H231M232 250.5H233M239 250.5H240M247 250.5H248M259 250.5H260M263 250.5H264M275 250.5H276M283 250.5H284M295 250.5H296M368 250.5H369M483 250.5H486M488 250.5H489M495 250.5H498M503 250.5H506M214 251.5H215M228 251.5H230M238 251.5H239M245 251.5H247M257 251.5H259M262 251.5H263M274 251.5H275M281 251.5H283M293 251.5H295M366 251.5H368M481 251.5H483M486 251.5H488M493 251.5H495M500 251.5H503M227 252.5H228M244 252.5H245M256 252.5H257M280 252.5H281M292 252.5H293M365 252.5H366M479 252.5H481M485 252.5H486M491 252.5H493M497 252.5H500M223 253.5H224M242 253.5H244M254 253.5H255M278 253.5H280M290 253.5H292M363 253.5H365M476 253.5H479M483 253.5H485M488 253.5H490M493 253.5H497M212 254.5H213M221 254.5H223M236 254.5H237M240 254.5H242M252 254.5H254M260 254.5H261M272 254.5H273M276 254.5H278M288 254.5H290M361 254.5H363M474 254.5H476M481 254.5H483M486 254.5H487M491 254.5H493M211 255.5H212M218 255.5H221M223 255.5H224M235 255.5H236M239 255.5H240M251 255.5H252M259 255.5H260M271 255.5H272M275 255.5H276M287 255.5H288M360 255.5H361M471 255.5H474M480 255.5H481M483 255.5H484M488 255.5H490M210 256.5H211M216 256.5H218M222 256.5H223M234 256.5H235M237 256.5H239M249 256.5H251M258 256.5H259M270 256.5H271M273 256.5H275M285 256.5H287M358 256.5H360M469 256.5H471M478 256.5H479M486 256.5H487M214 257.5H216M236 257.5H237M248 257.5H249M272 257.5H273M284 257.5H285M357 257.5H358M467 257.5H469M483 257.5H484M211 258.5H214M234 258.5H236M246 258.5H248M270 258.5H272M282 258.5H284M355 258.5H357M464 258.5H467M478 258.5H479M210 259.5H211M220 259.5H221M232 259.5H233M244 259.5H246M256 259.5H257M268 259.5H269M280 259.5H282M353 259.5H355M462 259.5H464M474 259.5H475M243 260.5H244M278 260.5H280M351 260.5H353M460 260.5H462M472 260.5H473M206 261.5H207M218 261.5H219M230 261.5H231M241 261.5H243M254 261.5H255M265 261.5H266M276 261.5H278M349 261.5H351M458 261.5H460M468 261.5H469M470 261.5H471M216 262.5H217M228 262.5H229M240 262.5H241M274 262.5H276M346 262.5H349M457 262.5H458M465 262.5H467M214 263.5H216M226 263.5H228M238 263.5H240M259 263.5H260M271 263.5H274M344 263.5H346M455 263.5H457M461 263.5H465M468 263.5H469M204 264.5H205M212 264.5H214M216 264.5H217M224 264.5H226M228 264.5H229M236 264.5H238M252 264.5H253M257 264.5H259M269 264.5H271M341 264.5H344M453 264.5H455M458 264.5H461M465 264.5H467M203 265.5H204M211 265.5H212M215 265.5H216M223 265.5H224M227 265.5H228M235 265.5H236M251 265.5H252M254 265.5H257M259 265.5H260M266 265.5H269M339 265.5H341M455 265.5H458M464 265.5H465M202 266.5H203M209 266.5H211M214 266.5H215M221 266.5H223M226 266.5H227M233 266.5H235M252 266.5H254M257 266.5H259M264 266.5H266M336 266.5H339M453 266.5H455M462 266.5H464M208 267.5H209M220 267.5H221M232 267.5H233M251 267.5H252M256 267.5H257M262 267.5H264M334 267.5H336M449 267.5H450M461 267.5H462M206 268.5H207M218 268.5H219M230 268.5H232M247 268.5H248M254 268.5H256M259 268.5H262M332 268.5H334M447 268.5H449M459 268.5H461M200 269.5H201M204 269.5H206M212 269.5H213M216 269.5H218M224 269.5H225M228 269.5H230M245 269.5H247M252 269.5H254M257 269.5H259M329 269.5H332M442 269.5H444M457 269.5H459M199 270.5H200M203 270.5H204M211 270.5H212M215 270.5H216M223 270.5H224M227 270.5H228M242 270.5H245M247 270.5H248M251 270.5H252M254 270.5H257M327 270.5H329M439 270.5H442M456 270.5H457M198 271.5H199M201 271.5H203M210 271.5H211M213 271.5H215M222 271.5H223M225 271.5H227M240 271.5H242M246 271.5H247M249 271.5H250M252 271.5H254M324 271.5H327M436 271.5H439M442 271.5H444M454 271.5H456M200 272.5H201M212 272.5H213M224 272.5H225M238 272.5H240M251 272.5H252M322 272.5H324M433 272.5H436M441 272.5H442M453 272.5H454M198 273.5H200M210 273.5H212M222 273.5H224M235 273.5H238M247 273.5H248M249 273.5H250M319 273.5H322M429 273.5H433M439 273.5H441M451 273.5H453M196 274.5H197M208 274.5H209M220 274.5H221M233 274.5H235M317 274.5H319M426 274.5H429M437 274.5H439M449 274.5H451M195 275.5H196M232 275.5H233M315 275.5H317M423 275.5H426M435 275.5H437M446 275.5H449M194 276.5H195M206 276.5H207M229 276.5H231M242 276.5H243M314 276.5H315M419 276.5H422M431 276.5H435M441 276.5H446M192 277.5H193M204 277.5H205M228 277.5H229M240 277.5H241M415 277.5H417M427 277.5H431M437 277.5H441M190 278.5H192M202 278.5H204M211 278.5H212M226 278.5H228M238 278.5H240M411 278.5H413M423 278.5H427M432 278.5H437M188 279.5H190M192 279.5H193M200 279.5H202M204 279.5H205M209 279.5H211M216 279.5H217M224 279.5H226M236 279.5H238M240 279.5H241M312 279.5H313M407 279.5H408M419 279.5H422M427 279.5H432M187 280.5H188M191 280.5H192M199 280.5H200M203 280.5H204M206 280.5H207M208 280.5H209M211 280.5H212M215 280.5H216M223 280.5H224M235 280.5H236M239 280.5H240M311 280.5H312M398 280.5H399M415 280.5H417M423 280.5H427M185 281.5H187M190 281.5H191M197 281.5H199M204 281.5H206M209 281.5H211M214 281.5H215M221 281.5H223M233 281.5H235M238 281.5H239M310 281.5H311M393 281.5H395M411 281.5H413M419 281.5H422M184 282.5H185M196 282.5H197M203 282.5H204M208 282.5H209M220 282.5H221M232 282.5H233M389 282.5H391M398 282.5H399M407 282.5H408M415 282.5H417M182 283.5H184M194 283.5H196M199 283.5H200M206 283.5H207M218 283.5H220M230 283.5H231M384 283.5H387M393 283.5H395M411 283.5H413M180 284.5H182M188 284.5H189M192 284.5H194M197 284.5H199M204 284.5H206M212 284.5H213M216 284.5H218M228 284.5H230M236 284.5H237M308 284.5H309M379 284.5H383M389 284.5H391M407 284.5H408M179 285.5H180M187 285.5H188M191 285.5H192M194 285.5H197M199 285.5H200M203 285.5H204M211 285.5H212M215 285.5H216M227 285.5H228M235 285.5H236M307 285.5H308M374 285.5H379M384 285.5H387M398 285.5H399M177 286.5H179M186 286.5H187M189 286.5H190M192 286.5H194M198 286.5H199M201 286.5H203M210 286.5H211M213 286.5H215M225 286.5H227M234 286.5H235M306 286.5H307M369 286.5H374M379 286.5H383M393 286.5H395M176 287.5H177M191 287.5H192M200 287.5H201M212 287.5H213M224 287.5H225M365 287.5H369M375 287.5H379M389 287.5H391M174 288.5H176M187 288.5H188M189 288.5H190M198 288.5H200M210 288.5H212M222 288.5H224M360 288.5H365M371 288.5H375M384 288.5H387M172 289.5H174M196 289.5H197M208 289.5H209M220 289.5H222M232 289.5H233M304 289.5H305M355 289.5H360M367 289.5H371M379 289.5H383M183 290.5H184M302 290.5H304M351 290.5H355M363 290.5H367M375 290.5H379M182 291.5H183M192 291.5H193M205 291.5H207M218 291.5H219M230 291.5H231M242 291.5H243M300 291.5H302M349 291.5H351M360 291.5H363M370 291.5H371M373 291.5H374M180 292.5H181M190 292.5H192M204 292.5H205M228 292.5H229M298 292.5H300M346 292.5H349M356 292.5H360M366 292.5H368M178 293.5H180M187 293.5H190M202 293.5H204M226 293.5H228M295 293.5H298M344 293.5H346M353 293.5H356M362 293.5H366M370 293.5H371M176 294.5H178M180 294.5H181M185 294.5H187M192 294.5H193M200 294.5H202M216 294.5H217M224 294.5H226M228 294.5H229M240 294.5H241M293 294.5H295M341 294.5H344M350 294.5H353M358 294.5H362M366 294.5H368M175 295.5H176M179 295.5H180M182 295.5H185M191 295.5H192M199 295.5H200M215 295.5H216M223 295.5H224M227 295.5H228M239 295.5H240M290 295.5H293M339 295.5H341M347 295.5H350M354 295.5H358M363 295.5H366M173 296.5H175M180 296.5H182M190 296.5H191M197 296.5H199M214 296.5H215M221 296.5H223M226 296.5H227M238 296.5H239M288 296.5H290M336 296.5H339M343 296.5H346M350 296.5H354M361 296.5H363M172 297.5H173M179 297.5H180M196 297.5H197M220 297.5H221M286 297.5H288M334 297.5H336M340 297.5H342M347 297.5H350M359 297.5H361M170 298.5H171M175 298.5H176M194 298.5H195M218 298.5H219M283 298.5H286M332 298.5H333M337 298.5H338M343 298.5H346M356 298.5H359M168 299.5H170M173 299.5H175M188 299.5H189M192 299.5H194M212 299.5H213M216 299.5H218M224 299.5H225M236 299.5H237M281 299.5H283M329 299.5H330M340 299.5H342M354 299.5H356M167 300.5H168M170 300.5H171M172 300.5H173M175 300.5H176M187 300.5H188M191 300.5H192M211 300.5H212M215 300.5H216M223 300.5H224M235 300.5H236M278 300.5H281M337 300.5H338M351 300.5H354M165 301.5H166M168 301.5H170M174 301.5H175M186 301.5H187M189 301.5H191M210 301.5H211M213 301.5H215M222 301.5H223M234 301.5H235M276 301.5H278M333 301.5H334M349 301.5H351M167 302.5H168M188 302.5H189M212 302.5H213M274 302.5H276M347 302.5H349M163 303.5H164M165 303.5H166M186 303.5H188M210 303.5H212M271 303.5H274M344 303.5H347M161 304.5H162M172 304.5H173M184 304.5H185M208 304.5H209M220 304.5H221M232 304.5H233M269 304.5H271M318 304.5H319M342 304.5H344M159 305.5H160M183 305.5H184M267 305.5H269M314 305.5H317M339 305.5H342M158 306.5H159M170 306.5H171M194 306.5H195M206 306.5H207M265 306.5H267M311 306.5H313M336 306.5H338M168 307.5H169M204 307.5H205M264 307.5H265M332 307.5H334M166 308.5H168M175 308.5H176M202 308.5H204M262 308.5H264M329 308.5H330M156 309.5H157M164 309.5H166M168 309.5H169M173 309.5H175M180 309.5H181M192 309.5H193M200 309.5H202M204 309.5H205M260 309.5H262M322 309.5H323M155 310.5H156M163 310.5H164M167 310.5H168M170 310.5H173M175 310.5H176M179 310.5H180M191 310.5H192M199 310.5H200M203 310.5H204M259 310.5H260M289 310.5H290M318 310.5H319M154 311.5H155M161 311.5H163M168 311.5H170M173 311.5H175M178 311.5H179M190 311.5H191M197 311.5H199M202 311.5H203M257 311.5H259M284 311.5H286M314 311.5H316M322 311.5H323M160 312.5H161M167 312.5H168M172 312.5H173M196 312.5H197M256 312.5H257M280 312.5H282M294 312.5H295M310 312.5H313M318 312.5H319M158 313.5H160M163 313.5H164M170 313.5H172M194 313.5H195M254 313.5H256M275 313.5H278M284 313.5H285M290 313.5H292M306 313.5H309M314 313.5H316M152 314.5H153M156 314.5H158M161 314.5H163M168 314.5H170M176 314.5H177M188 314.5H189M192 314.5H194M200 314.5H201M252 314.5H254M270 314.5H274M280 314.5H282M286 314.5H288M302 314.5H306M310 314.5H313M151 315.5H152M155 315.5H156M158 315.5H161M163 315.5H164M167 315.5H168M175 315.5H176M187 315.5H188M191 315.5H192M199 315.5H200M251 315.5H252M265 315.5H270M275 315.5H278M282 315.5H285M298 315.5H302M306 315.5H309M150 316.5H151M153 316.5H154M156 316.5H158M162 316.5H163M165 316.5H167M174 316.5H175M186 316.5H187M189 316.5H191M198 316.5H199M249 316.5H251M260 316.5H265M270 316.5H274M279 316.5H282M294 316.5H298M303 316.5H306M155 317.5H156M164 317.5H165M188 317.5H189M248 317.5H249M256 317.5H260M266 317.5H270M276 317.5H279M290 317.5H294M300 317.5H303M151 318.5H152M153 318.5H154M162 318.5H164M186 318.5H188M251 318.5H256M262 318.5H266M272 318.5H276M286 318.5H290M296 318.5H300M160 319.5H161M172 319.5H173M184 319.5H185M196 319.5H197M248 319.5H251M258 319.5H262M269 319.5H272M282 319.5H286M293 319.5H296M159 320.5H160M171 320.5H172M183 320.5H184M243 320.5H244M255 320.5H258M266 320.5H269M278 320.5H282M290 320.5H293M146 321.5H147M158 321.5H159M170 321.5H171M182 321.5H183M194 321.5H195M206 321.5H207M217 321.5H218M230 321.5H231M242 321.5H243M253 321.5H255M264 321.5H266M275 321.5H278M287 321.5H290M156 322.5H157M168 322.5H169M180 322.5H181M192 322.5H193M240 322.5H241M252 322.5H253M262 322.5H264M272 322.5H275M284 322.5H287M154 323.5H156M166 323.5H168M178 323.5H180M190 323.5H192M211 323.5H212M238 323.5H240M250 323.5H252M259 323.5H262M268 323.5H272M280 323.5H284M144 324.5H145M152 324.5H154M156 324.5H157M164 324.5H166M168 324.5H169M176 324.5H178M180 324.5H181M188 324.5H190M192 324.5H193M204 324.5H205M209 324.5H211M228 324.5H229M236 324.5H238M240 324.5H241M248 324.5H250M257 324.5H259M265 324.5H268M277 324.5H280M143 325.5H144M151 325.5H152M155 325.5H156M163 325.5H164M167 325.5H168M175 325.5H176M179 325.5H180M187 325.5H188M191 325.5H192M203 325.5H204M206 325.5H209M211 325.5H212M227 325.5H228M235 325.5H236M239 325.5H240M247 325.5H248M254 325.5H257M262 325.5H265M274 325.5H277M142 326.5H143M149 326.5H151M154 326.5H155M161 326.5H163M166 326.5H167M173 326.5H175M178 326.5H179M185 326.5H187M190 326.5H191M204 326.5H206M209 326.5H211M226 326.5H227M233 326.5H235M238 326.5H239M245 326.5H247M252 326.5H254M259 326.5H262M271 326.5H274M148 327.5H149M160 327.5H161M172 327.5H173M184 327.5H185M203 327.5H204M208 327.5H209M232 327.5H233M244 327.5H245M250 327.5H252M256 327.5H259M268 327.5H271M146 328.5H147M158 328.5H160M170 328.5H172M182 328.5H184M199 328.5H200M206 328.5H208M230 328.5H231M242 328.5H244M247 328.5H249M252 328.5H256M264 328.5H268M140 329.5H141M144 329.5H146M152 329.5H153M156 329.5H158M164 329.5H165M168 329.5H170M176 329.5H177M180 329.5H182M188 329.5H189M197 329.5H199M204 329.5H206M224 329.5H225M228 329.5H230M236 329.5H237M240 329.5H242M245 329.5H246M250 329.5H252M261 329.5H264M139 330.5H140M143 330.5H144M151 330.5H152M155 330.5H156M163 330.5H164M167 330.5H168M175 330.5H176M179 330.5H180M187 330.5H188M194 330.5H195M196 330.5H197M199 330.5H200M203 330.5H204M223 330.5H224M227 330.5H228M235 330.5H236M239 330.5H240M242 330.5H243M247 330.5H249M258 330.5H261M138 331.5H139M141 331.5H143M150 331.5H151M153 331.5H155M162 331.5H163M165 331.5H167M174 331.5H175M177 331.5H179M186 331.5H187M192 331.5H194M198 331.5H199M201 331.5H203M222 331.5H223M225 331.5H227M234 331.5H235M237 331.5H238M245 331.5H246M255 331.5H258M140 332.5H141M152 332.5H153M164 332.5H165M176 332.5H177M190 332.5H192M200 332.5H201M224 332.5H225M242 332.5H243M252 332.5H255M138 333.5H140M150 333.5H152M162 333.5H164M174 333.5H176M187 333.5H190M198 333.5H200M222 333.5H224M237 333.5H238M248 333.5H252M136 334.5H137M148 334.5H149M160 334.5H161M172 334.5H173M186 334.5H187M196 334.5H197M220 334.5H221M245 334.5H248M171 335.5H172M183 335.5H184M219 335.5H220M243 335.5H245M134 336.5H135M146 336.5H147M157 336.5H159M170 336.5H171M182 336.5H183M218 336.5H219M230 336.5H231M242 336.5H243M144 337.5H145M156 337.5H157M168 337.5H169M180 337.5H181M216 337.5H217M228 337.5H229M142 338.5H144M154 338.5H156M166 338.5H168M178 338.5H180M214 338.5H216M226 338.5H228M132 339.5H133M140 339.5H142M144 339.5H145M152 339.5H154M164 339.5H166M168 339.5H169M176 339.5H178M180 339.5H181M212 339.5H214M216 339.5H217M224 339.5H226M228 339.5H229M240 339.5H241M131 340.5H132M139 340.5H140M143 340.5H144M151 340.5H152M163 340.5H164M167 340.5H168M175 340.5H176M179 340.5H180M211 340.5H212M215 340.5H216M223 340.5H224M227 340.5H228M239 340.5H240M130 341.5H131M137 341.5H139M142 341.5H143M149 341.5H151M161 341.5H163M166 341.5H167M173 341.5H175M178 341.5H179M209 341.5H211M214 341.5H215M221 341.5H223M226 341.5H227M238 341.5H239M136 342.5H137M148 342.5H149M160 342.5H161M172 342.5H173M208 342.5H209M220 342.5H221M134 343.5H135M146 343.5H147M158 343.5H159M170 343.5H172M206 343.5H208M218 343.5H220M128 344.5H129M132 344.5H134M140 344.5H141M144 344.5H146M156 344.5H158M164 344.5H165M168 344.5H170M176 344.5H177M204 344.5H206M212 344.5H213M216 344.5H218M224 344.5H225M236 344.5H237M127 345.5H128M131 345.5H132M139 345.5H140M143 345.5H144M155 345.5H156M163 345.5H164M167 345.5H168M175 345.5H176M203 345.5H204M211 345.5H212M215 345.5H216M223 345.5H224M235 345.5H236M126 346.5H127M129 346.5H131M138 346.5H139M141 346.5H143M153 346.5H155M162 346.5H163M165 346.5H167M174 346.5H175M201 346.5H203M210 346.5H211M213 346.5H215M222 346.5H223M234 346.5H235M128 347.5H129M140 347.5H141M152 347.5H153M164 347.5H165M200 347.5H201M212 347.5H213M126 348.5H128M138 348.5H140M150 348.5H152M162 348.5H164M198 348.5H200M210 348.5H212M124 349.5H125M136 349.5H137M148 349.5H150M160 349.5H161M172 349.5H173M196 349.5H198M208 349.5H209M220 349.5H221M232 349.5H233M171 350.5H172M206 350.5H208M219 350.5H220M230 350.5H231M122 351.5H123M134 351.5H135M145 351.5H147M158 351.5H159M170 351.5H171M204 351.5H206M217 351.5H219M227 351.5H230M132 352.5H133M144 352.5H145M156 352.5H157M186 352.5H187M202 352.5H204M216 352.5H217M224 352.5H227M130 353.5H132M142 353.5H144M154 353.5H156M182 353.5H185M199 353.5H202M214 353.5H216M220 353.5H224M120 354.5H121M128 354.5H130M132 354.5H133M140 354.5H142M152 354.5H154M156 354.5H157M168 354.5H169M178 354.5H182M186 354.5H187M192 354.5H193M197 354.5H199M212 354.5H214M217 354.5H220M119 355.5H120M127 355.5H128M131 355.5H132M139 355.5H140M151 355.5H152M155 355.5H156M167 355.5H168M174 355.5H178M182 355.5H185M187 355.5H188M191 355.5H192M194 355.5H197M214 355.5H217M118 356.5H119M125 356.5H127M130 356.5H131M137 356.5H139M149 356.5H151M154 356.5H155M170 356.5H174M180 356.5H182M185 356.5H187M192 356.5H194M212 356.5H214M124 357.5H125M136 357.5H137M148 357.5H149M167 357.5H170M178 357.5H180M184 357.5H185M191 357.5H192M208 357.5H209M122 358.5H123M134 358.5H135M146 358.5H148M162 358.5H164M175 358.5H178M182 358.5H184M187 358.5H188M206 358.5H208M116 359.5H117M120 359.5H122M128 359.5H129M132 359.5H134M144 359.5H146M152 359.5H153M158 359.5H162M173 359.5H175M180 359.5H182M185 359.5H187M201 359.5H203M115 360.5H116M119 360.5H120M127 360.5H128M131 360.5H132M143 360.5H144M154 360.5H158M163 360.5H164M170 360.5H173M179 360.5H180M182 360.5H185M187 360.5H188M198 360.5H201M114 361.5H115M117 361.5H119M126 361.5H127M129 361.5H131M141 361.5H143M150 361.5H151M152 361.5H154M162 361.5H163M168 361.5H170M177 361.5H178M180 361.5H182M186 361.5H187M195 361.5H198M201 361.5H203M116 362.5H117M128 362.5H129M140 362.5H141M146 362.5H149M166 362.5H168M179 362.5H180M192 362.5H195M200 362.5H201M114 363.5H116M126 363.5H128M142 363.5H146M163 363.5H166M175 363.5H176M177 363.5H178M188 363.5H192M198 363.5H200M112 364.5H113M124 364.5H125M140 364.5H142M148 364.5H149M162 364.5H163M173 364.5H174M186 364.5H188M196 364.5H198M111 365.5H112M147 365.5H148M159 365.5H160M171 365.5H172M183 365.5H184M195 365.5H196" stroke="#ff8000" stroke-width="1" fill="none" shape-rendering="crispEdges"/>
<g stroke="#000" stroke-width="1" fill="none" shape-rendering="crispEdges">
<rect x="65.5" y="65.5" width="550" height="310"/>
<line x1="128.5" y1="375" x2="128.5" y2="370"/>
<line x1="128.5" y1="65" x2="128.5" y2="71"/>
<line x1="181.5" y1="375" x2="181.5" y2="365"/>
<line x1="181.5" y1="65" x2="181.5" y2="76"/>
<line x1="234.5" y1="375" x2="234.5" y2="370"/>
<line x1="234.5" y1="65" x2="234.5" y2="71"/>
<line x1="287.5" y1="375" x2="287.5" y2="365"/>
<line x1="287.5" y1="65" x2="287.5" y2="76"/>
<line x1="340.5" y1="375" x2="340.5" y2="370"/>
<line x1="340.5" y1="65" x2="340.5" y2="71"/>
<line x1="393.5" y1="375" x2="393.5" y2="365"/>
<line x1="393.5" y1="65" x2="393.5" y2="76"/>
<line x1="446.5" y1="375" x2="446.5" y2="370"/>
<line x1="446.5" y1="65" x2="446.5" y2="71"/>
<line x1="499.5" y1="375" x2="499.5" y2="365"/>
<line x1="499.5" y1="65" x2="499.5" y2="76"/>
<line x1="552.5" y1="375" x2="552.5" y2="370"/>
<line x1="552.5" y1="65" x2="552.5" y2="71"/>
<line x1="605.5" y1="375" x2="605.5" y2="365"/>
<line x1="605.5" y1="65" x2="605.5" y2="76"/>
<line x1="65" y1="336.5" x2="71" y2="336.5"/>
<line x1="615" y1="336.5" x2="610" y2="336.5"/>
<line x1="65" y1="307.5" x2="71" y2="307.5"/>
<line x1="615" y1="307.5" x2="610" y2="307.5"/>
<line x1="65" y1="278.5" x2="71" y2="278.5"/>
<line x1="615" y1="278.5" x2="610" y2="278.5"/>
<line x1="65" y1="249.5" x2="71" y2="249.5"/>
<line x1="615" y1="249.5" x2="610" y2="249.5"/>
<line x1="65" y1="220.5" x2="76" y2="220.5"/>
<line x1="615" y1="220.5" x2="605" y2="220.5"/>
<line x1="65" y1="191.5" x2="71" y2="191.5"/>
<line x1="615" y1="191.5" x2="610" y2="191.5"/>
<line x1="65" y1="162.5" x2="71" y2="162.5"/>
<line x1="615" y1="162.5" x2="610" y2="162.5"/>
<line x1="65" y1="133.5" x2="71" y2="133.5"/>
<line x1="615" y1="133.5" x2="610" y2="133.5"/>
<line x1="65" y1="104.5" x2="71" y2="104.5"/>
<line x1="615" y1="104.5" x2="610" y2="104.5"/>
<line x1="65" y1="75.5" x2="76" y2="75.5"/>
<line x1="615" y1="75.5" x2="605" y2="75.5"/>
</g>
<text class="t" x="309.5" y="30">S0953s2-D1</text>
<text class="t" x="219" y="420">Percent of Residues (CA)</text>
<text class="t" transform="translate(30.5,321) rotate(-90)">Distance Cutoff, A</text>
<text class="n" x="60.5" y="395">0</text>
<text class="n" x="171.5" y="395">20</text>
<text class="n" x="277.5" y="395">40</text>
<text class="n" x="383.5" y="395">60</text>
<text class="n" x="489.5" y="395">80</text>
<text class="n" x="595.0" y="395">100</text>
<text class="n" transform="translate(55,379.5) rotate(-90)">0</text>
<text class="n" transform="translate(55,224.5) rotate(-90)">5</text>
<text class="n" transform="translate(55,74.5) rotate(-90)">10</text>
</svg></body></html>
